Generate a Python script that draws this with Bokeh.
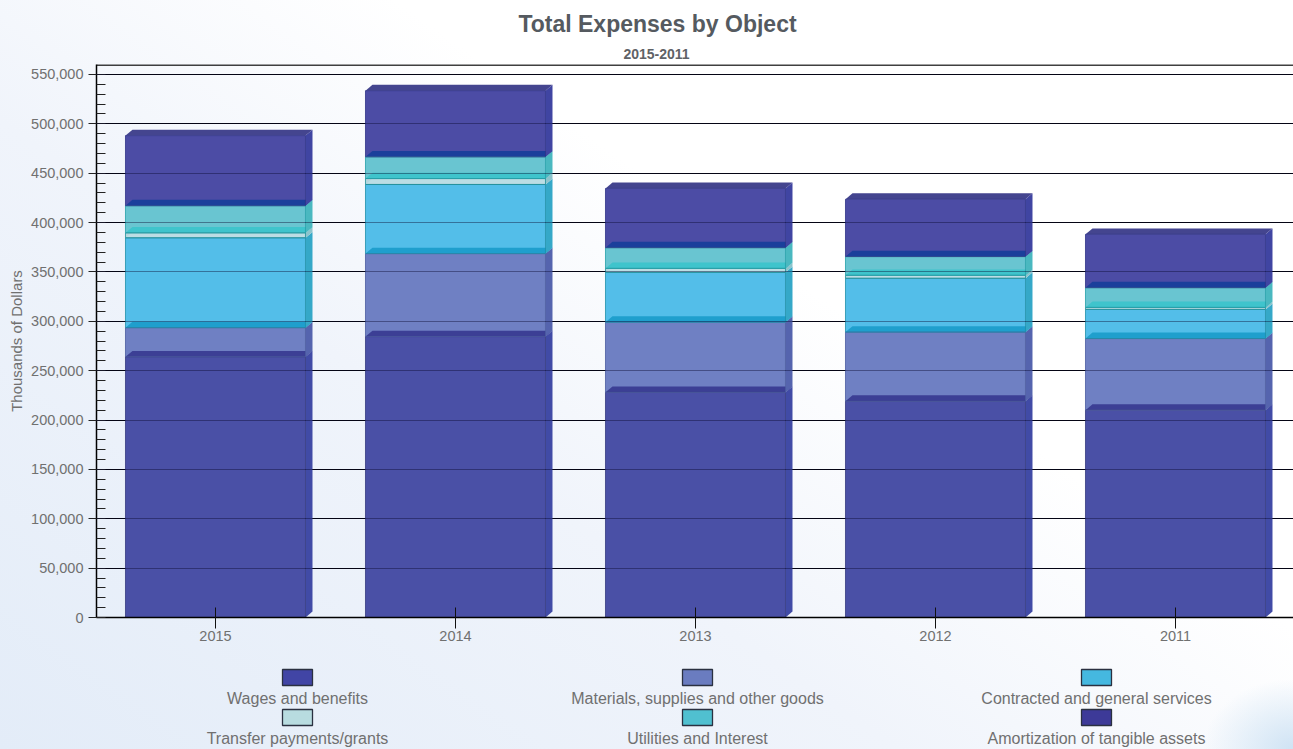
from bokeh.core.properties import value
from bokeh.embed import file_html
from bokeh.layouts import column
from bokeh.models import FixedTicker, Grid, NumeralTickFormatter, Range1d, Span
from bokeh.plotting import figure
from bokeh.resources import INLINE

TITLE = "Total Expenses by Object"
SUBTITLE = "2015-2011"
Y_LABEL = "Thousands of Dollars"
FONT = "Liberation Sans"

years = ["2015", "2014", "2013", "2012", "2011"]

wages = [264000, 284500, 228000, 219000, 210000]
materials = [29500, 84000, 71000, 70000, 72500]
contracted = [91000, 70000, 50500, 54500, 29500]
transfers = [5000, 6000, 4000, 3000, 2000]
utilities = [27500, 22000, 21000, 19000, 20000]
amortization = [71000, 67000, 60000, 58000, 54000]

series_names = [
    "Wages and benefits",
    "Materials, supplies and other goods",
    "Contracted and general services",
    "Transfer payments/grants",
    "Utilities and Interest",
    "Amortization of tangible assets",
]
series_values = [wages, materials, contracted, transfers, utilities, amortization]

front_colors = ["#4a50a6", "#6f80c3", "#53bee9", "#b5d6de", "#69c5d1", "#4c4ca5"]
edge_colors = ["#34387f", "#4a5aa0", "#1e8fa8", "#1f8f98", "#25a0a8", "#2f3288"]
side_colors = ["#414ba6", "#5564ae", "#35a8c8", "#8cc4cc", "#4ab8c0", "#4045a2"]
cap_colors = ["#3c3f95", "#1f9fcd", "#bcdde4", "#3fc4cc", "#1b3f9b", "#44458f"]
swatch_colors = ["#4145a5", "#6a7cc0", "#45b8e0", "#b8dce0", "#50c0d0", "#3d3a98"]

# Box geometry in axis units: the face width and the receding depth of the 3D effect.
BAR_WIDTH = 0.75
DEPTH_X = 7 / 240
DEPTH_Y = 6000

CANVAS_W = 1293
PLOT_LEFT = 96


def text_strip(height, top):
    """A bare figure in page-pixel coordinates; the column lines its frame up with the chart's."""
    strip = figure(
        width=CANVAS_W, height=height, output_backend="svg", toolbar_location=None,
        x_range=Range1d(PLOT_LEFT, CANVAS_W), y_range=Range1d(top + height, top),
        x_axis_location=None, y_axis_location=None,
        min_border=0, outline_line_color=None,
        border_fill_alpha=0, background_fill_alpha=0,
    )
    strip.grid.visible = False
    return strip


# Heading
head = text_strip(60, 0)
head.text([657], [23], text=[TITLE], text_font=value(FONT), text_font_size="23px",
          text_font_style="bold", text_color="#555a60", text_align="center", text_baseline="middle")
head.text([656], [53], text=[SUBTITLE], text_font=value(FONT), text_font_size="14px",
          text_font_style="bold", text_color="#5f6266", text_align="center", text_baseline="middle")

# Main chart
p = figure(
    width=CANVAS_W,
    height=600,
    output_backend="svg",
    toolbar_location=None,
    x_range=Range1d(-0.4958, 4.4917),
    y_range=Range1d(0, 560000),
    min_border_left=PLOT_LEFT,
    min_border_right=0,
    min_border_top=4,
    min_border_bottom=43,
    outline_line_color=None,
    border_fill_alpha=0,
    background_fill_alpha=0,
)

# Black rules behind the boxes, and a softer pass over them so they show through.
p.xgrid.visible = False
p.ygrid.grid_line_color = "#000000"
p.ygrid.grid_line_width = 1
p.ygrid.level = "underlay"
tick_values = list(range(0, 550001, 50000))
p.ygrid.ticker = FixedTicker(ticks=tick_values)
p.add_layout(Grid(dimension=1, ticker=FixedTicker(ticks=tick_values), level="annotation",
                  grid_line_color="#0a0a30", grid_line_alpha=0.42))
p.add_layout(Span(location=559400, dimension="width", line_color="#000000", line_width=1.5))

# Stack the segments, drawing faces first so the recessed caps land on top of them.
bases = [0] * len(years)
layers = []
for values in series_values:
    tops = [b + v for b, v in zip(bases, values)]
    layers.append((list(bases), tops))
    bases = tops

positions = list(range(len(years)))
for i, (lows, highs) in enumerate(layers):
    p.vbar(x=positions, bottom=lows, top=highs, width=BAR_WIDTH,
           fill_color=front_colors[i], line_color=None)

half = BAR_WIDTH / 2
for i, (lows, highs) in enumerate(layers):
    side_xs, side_ys, cap_xs, cap_ys = [], [], [], []
    for c, (lo, hi) in enumerate(zip(lows, highs)):
        right = c + half
        left = c - half
        side_xs.append([right, right + DEPTH_X, right + DEPTH_X, right])
        side_ys.append([lo, lo + DEPTH_Y, hi + DEPTH_Y, hi])
        cap_xs.append([left, right, right + DEPTH_X, left + DEPTH_X])
        cap_ys.append([hi, hi, hi + DEPTH_Y, hi + DEPTH_Y])
    p.patches(side_xs, side_ys, fill_color=side_colors[i], line_color=None)
    p.patches(cap_xs, cap_ys, fill_color=cap_colors[i], line_color=None)

# Thin outlines of the front faces sit above the caps.
for i, (lows, highs) in enumerate(layers):
    p.vbar(x=positions, bottom=lows, top=highs, width=BAR_WIDTH,
           fill_alpha=0, line_color=edge_colors[i], line_width=0.8)

# Axes
ax = p.xaxis[0]
ax.ticker = FixedTicker(ticks=positions)
ax.major_label_overrides = {i: y for i, y in enumerate(years)}
ax.major_tick_in = 10
ax.major_tick_out = 11
ax.minor_tick_in = 0
ax.minor_tick_out = 0
ax.axis_line_color = "#000000"
ax.axis_line_width = 1.5
ax.major_tick_line_color = "#111111"
ax.major_label_standoff = 2
ax.major_label_text_font = FONT
ax.major_label_text_font_size = "14.5px"
ax.major_label_text_color = "#707070"

ay = p.yaxis[0]
ay.ticker = FixedTicker(ticks=tick_values, minor_ticks=list(range(0, 550001, 10000)))
ay.formatter = NumeralTickFormatter(format="0,0")
ay.major_tick_in = 0
ay.major_tick_out = 8
ay.minor_tick_in = 9
ay.minor_tick_out = 0
ay.axis_line_color = "#000000"
ay.axis_line_width = 1.5
ay.major_tick_line_color = "#222222"
ay.minor_tick_line_color = "#222222"
ay.major_label_standoff = 5
ay.major_label_text_font = FONT
ay.major_label_text_font_size = "14.5px"
ay.major_label_text_color = "#707070"
ay.axis_label = Y_LABEL
ay.axis_label_text_font = FONT
ay.axis_label_text_font_size = "15px"
ay.axis_label_text_font_style = "normal"
ay.axis_label_text_color = "#707070"
ay.axis_label_standoff = 3

# Key: three columns, two rows, with each swatch above its label.
key = text_strip(89, 660)
key_x = [297, 697, 1096]
key_swatch_y = [677, 717]
key_label_y = [698, 738]
xs = [key_x[i % 3] for i in range(len(series_names))]
key.rect(xs, [key_swatch_y[i // 3] for i in range(len(series_names))], width=30, height=16,
         fill_color=swatch_colors, line_color="#2a3040", line_width=1.3)
key.text(xs, [key_label_y[i // 3] for i in range(len(series_names))], text=series_names,
         text_font=value(FONT), text_font_size="16px", text_color="#707070",
         text_align="center", text_baseline="middle")

page = column(head, p, key, spacing=0)
page.styles = {
    "background": "radial-gradient(ellipse 90px 70px at 100% 100%, #cfe3f4 0%, rgba(207,227,244,0) 100%),"
    "linear-gradient(35deg, #e3ecf8 0%, #f0f4fb 38%, #ffffff 62%)"
}

open("out.html", "w").write(file_html(page, INLINE))
